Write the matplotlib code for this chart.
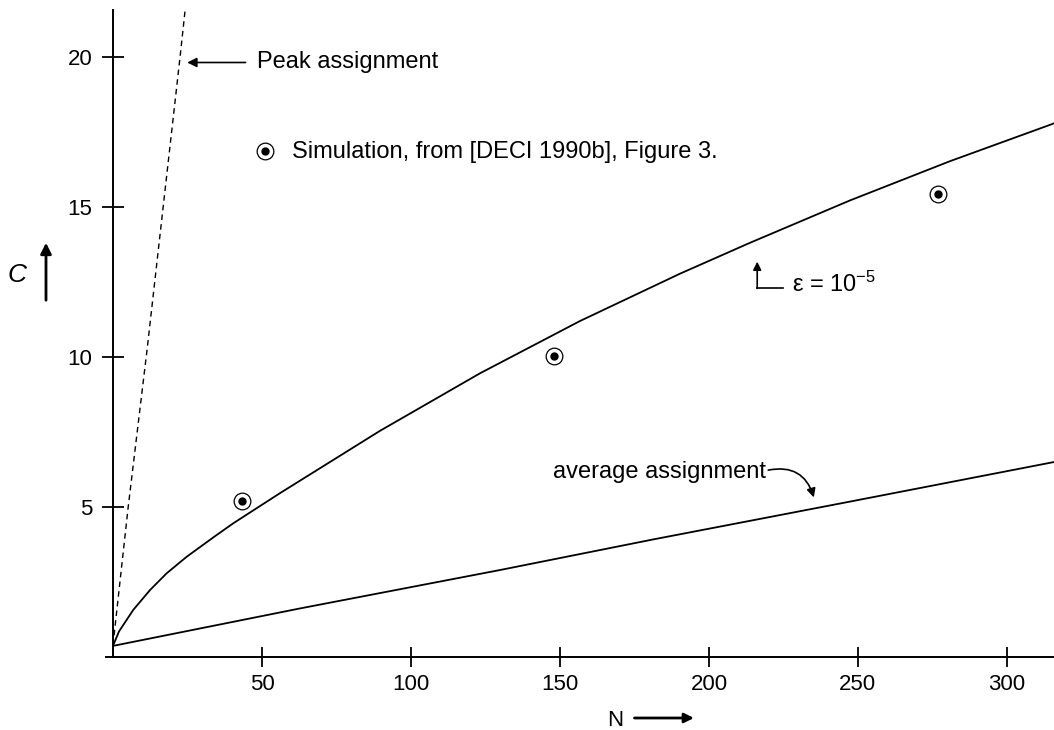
import matplotlib
matplotlib.use('Agg')
import matplotlib.pyplot as plt

plt.rcParams['font.family'] = ['Liberation Sans', 'DejaVu Sans']
plt.rcParams['mathtext.fontset'] = 'custom'
plt.rcParams['mathtext.rm'] = 'Liberation Sans'
plt.rcParams['mathtext.it'] = 'Liberation Sans:italic'

# epsilon = 1e-5 curve
n_eps = [0, 2.0, 6.8, 12.4, 18.0, 24.7, 33.7, 40.4, 56.0, 89.6, 123.2, 156.7,
         190.3, 213.8, 247.3, 280.9, 315.8]
c_eps = [0.37, 0.85, 1.57, 2.23, 2.79, 3.34, 3.99, 4.46, 5.46, 7.54, 9.46, 11.20,
         12.78, 13.81, 15.22, 16.53, 17.79]

# average assignment
n_avg = [0, 62.8, 129.9, 181.3, 247.3, 315.8]
c_avg = [0.37, 1.62, 2.90, 3.92, 5.18, 6.50]

# peak assignment (dashed)
n_peak = [0, 5.1, 11.5, 22.5, 25.0]
c_peak = [0.40, 5.0, 10.3, 20.0, 22.3]

# simulation points
n_sim = [43.4, 148.1, 277.0]
c_sim = [5.20, 10.03, 15.43]

x_ticks = [50, 100, 150, 200, 250, 300]
y_ticks = [5, 10, 15, 20]

fig = plt.figure(figsize=(10.54, 7.30), dpi=100)
ax = fig.add_axes([113 / 1054, 73 / 730, 941 / 1054, 647 / 730])

ax.plot(n_eps, c_eps, color='black', lw=1.3)
ax.plot(n_avg, c_avg, color='black', lw=1.3)
ax.plot(n_peak, c_peak, color='black', lw=1.0, linestyle=(0, (4, 3)))

ax.plot(n_sim, c_sim, linestyle='none', marker='o', ms=12, mfc='white',
        mec='black', mew=0.9)
ax.plot(n_sim, c_sim, linestyle='none', marker='o', ms=5, color='black')

ax.set_xlim(0, 315.8)
ax.set_ylim(0, 21.57)

for side in ['top', 'right']:
    ax.spines[side].set_visible(False)
for side in ['left', 'bottom']:
    ax.spines[side].set_linewidth(1.4)
# short stub of the N axis to the left of the C axis
ax.plot([-2.4, 0], [0, 0], color='black', lw=1.4, clip_on=False)

ax.set_xticks(x_ticks)
ax.set_yticks(y_ticks)
ax.tick_params(axis='x', direction='inout', length=14.4, width=1.3,
               labelsize=16, pad=5)
ax.tick_params(axis='y', direction='inout', length=15.8, width=1.3,
               labelsize=16, pad=7)

# annotations
ax.annotate('', xy=(24.9, 19.82), xytext=(44.5, 19.82),
            arrowprops=dict(arrowstyle='-|>', color='black', lw=1.2,
                            mutation_scale=14, shrinkA=0, shrinkB=0))
ax.text(48.4, 19.82, 'Peak assignment', fontsize=17, va='center', ha='left')

ax.plot([51.0], [16.87], linestyle='none', marker='o', ms=12, mfc='white',
        mec='black', mew=0.9, clip_on=False)
ax.plot([51.0], [16.87], linestyle='none', marker='o', ms=5, color='black')
ax.text(60.0, 16.84, 'Simulation, from [DECI 1990b], Figure 3.', fontsize=17,
        va='center', ha='left')

ax.annotate('', xy=(216.2, 13.18), xytext=(216.2, 12.29),
            arrowprops=dict(arrowstyle='-|>', color='black', lw=1.2,
                            mutation_scale=12, shrinkA=0, shrinkB=0))
ax.plot([216.2, 224.7], [12.29, 12.29], color='black', lw=1.2)
ax.text(227.8, 12.18, r'ε = 10$^{-5}$', fontsize=17, va='baseline', ha='left')

ax.text(147.8, 6.18, 'average assignment', fontsize=17, va='center', ha='left')
ax.annotate('', xy=(235.2, 5.32), xytext=(219.9, 6.23),
            arrowprops=dict(arrowstyle='-|>', color='black', lw=1.2,
                            mutation_scale=13, shrinkA=0, shrinkB=0,
                            connectionstyle='arc3,rad=-0.45'))

# axis labels with arrows
fig.text(16.7 / 1054, 1 - 275 / 730, 'C', fontsize=19, style='italic',
         ha='center', va='center')
fig.add_artist(matplotlib.patches.FancyArrowPatch(
    (46 / 1054, 1 - 303 / 730), (46 / 1054, 1 - 240 / 730),
    transform=fig.transFigure, arrowstyle='-|>', color='black', lw=2,
    mutation_scale=16))
fig.text(615 / 1054, 1 - 720 / 730, 'N', fontsize=16, ha='center', va='center')
fig.add_artist(matplotlib.patches.FancyArrowPatch(
    (631.7 / 1054, 1 - 718 / 730), (696.7 / 1054, 1 - 718 / 730),
    transform=fig.transFigure, arrowstyle='-|>', color='black', lw=2,
    mutation_scale=14))

fig.savefig('out.png', dpi=100)
